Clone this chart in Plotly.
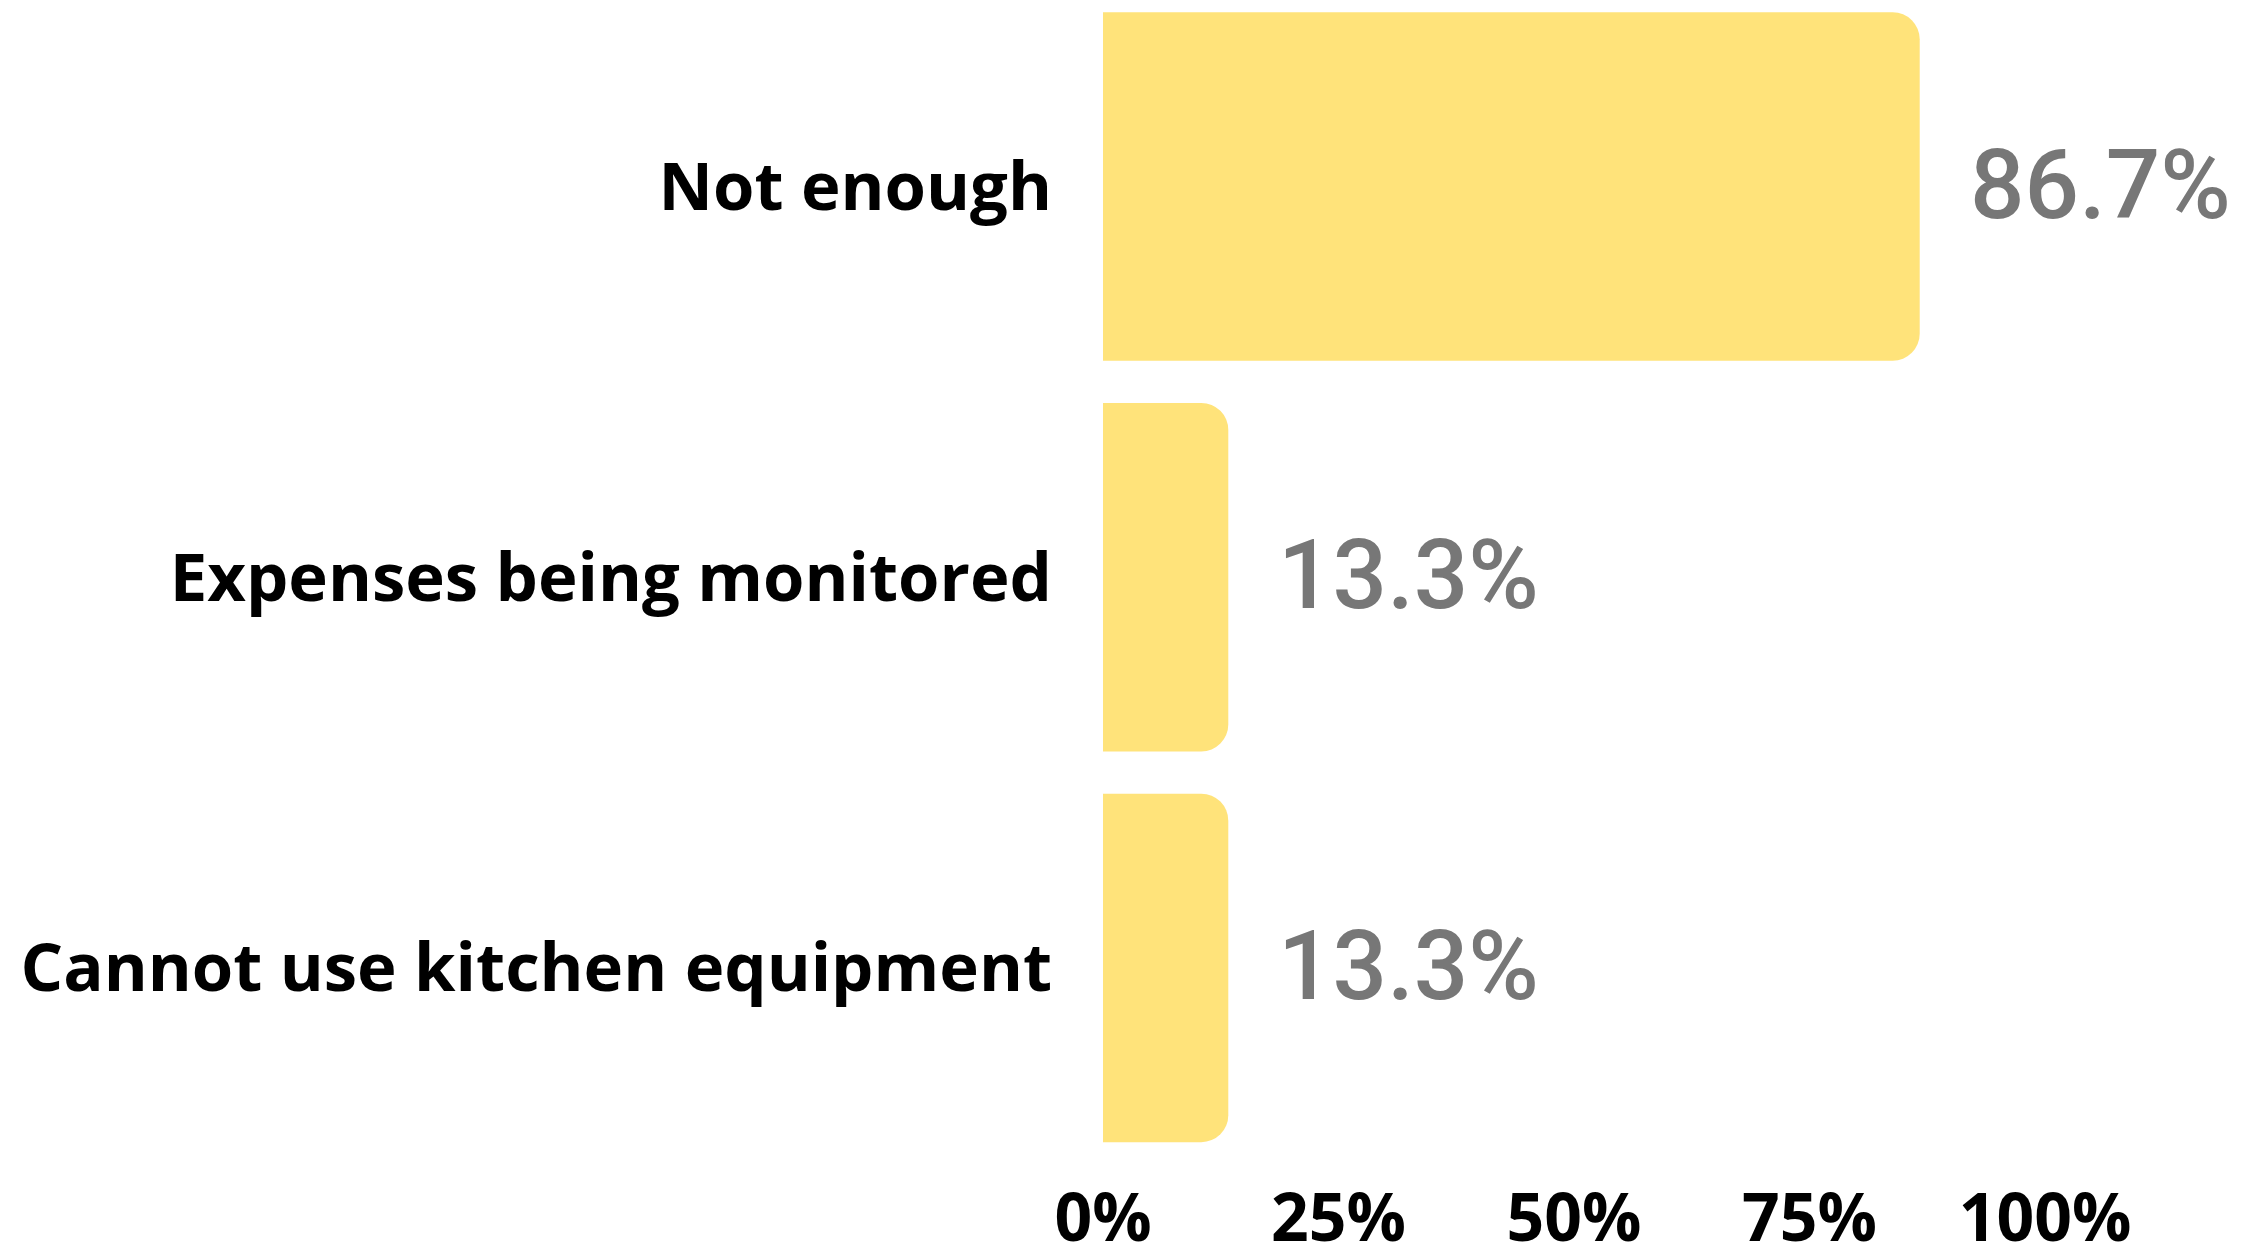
import plotly.graph_objects as go

categories = ["Not enough", "Expenses being monitored", "Cannot use kitchen equipment"]
values = [86.7, 13.3, 13.3]
value_labels = ["86.7%", "13.3%", "13.3%"]
tick_vals = [0, 25, 50, 75, 100]
tick_text = ["0%", "25%", "50%", "75%", "100%"]

BAR_COLOR = "#FFE37A"

fig = go.Figure()
fig.add_trace(go.Bar(
    y=categories,
    x=values,
    orientation="h",
    marker=dict(color=BAR_COLOR, cornerradius=27, line=dict(width=0)),
    hoverinfo="skip",
))

for cat, v, lab in zip(categories, values, value_labels):
    fig.add_annotation(
        x=v, y=cat, text=lab, showarrow=False,
        xanchor="left", yanchor="middle", xshift=48, yshift=2,
        font=dict(family="Roboto", size=96, color="#777777", weight=500),
    )

fig.update_layout(
    width=2247, height=1236,
    margin=dict(l=1095, r=210, t=0, b=84, autoexpand=False),
    paper_bgcolor="white", plot_bgcolor="white",
    showlegend=False,
    bargap=0.108,
    xaxis=dict(
        range=[0, 100], tickvals=tick_vals, ticktext=tick_text,
        showgrid=False, zeroline=False, showline=False, ticks="",
        tickfont=dict(family="Open Sans", size=66, color="#000000", weight=700),
        ticklabelstandoff=14, automargin=False,
        fixedrange=True,
    ),
    yaxis=dict(
        categoryorder="array", categoryarray=categories,
        range=[2.4917, -0.4569],
        showgrid=False, zeroline=False, showline=False, ticks="",
        tickfont=dict(family="Open Sans", size=67, color="#000000", weight=700),
        ticklabelstandoff=50, automargin=False,
        fixedrange=True,
    ),
)

fig.write_html("out.html", config={"displayModeBar": False})
